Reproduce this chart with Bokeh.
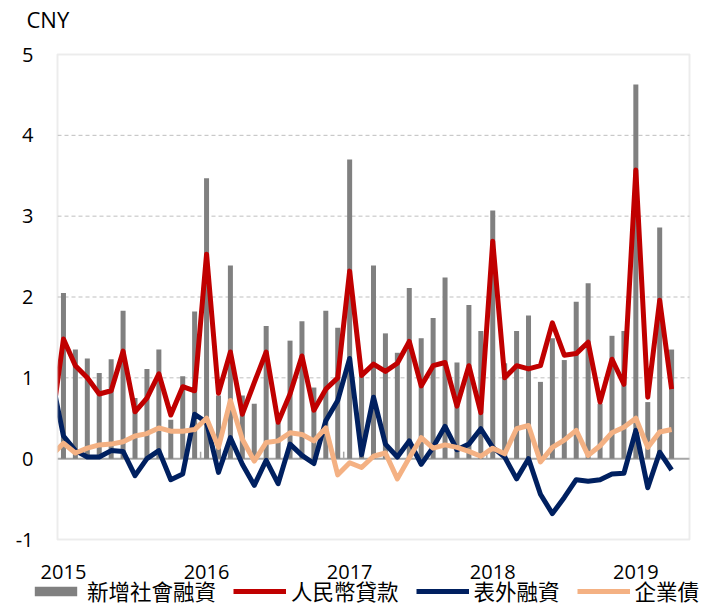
import pandas as pd
from bokeh.plotting import figure
from bokeh.models import (Range1d, Legend, LegendItem, BoxAnnotation, ColumnDataSource)
from bokeh.core.properties import value
from bokeh.embed import file_html
from bokeh.resources import INLINE

# ---------------- data (CNY trillion, monthly) ----------------
# line series start one month earlier (Dec 2014); that stub is hidden left of the box
line_months = pd.date_range("2014-12-01", "2019-04-01", freq="MS")
bar_months = pd.date_range("2015-01-01", "2019-04-01", freq="MS")

tsf_total = [2.05, 1.35, 1.24, 1.06, 1.23, 1.83, 0.75, 1.11, 1.35, 0.48, 1.02, 1.82,
             3.47, 0.78, 2.39, 0.78, 0.68, 1.64, 0.44, 1.46, 1.70, 0.88, 1.83, 1.62,
             3.70, 1.03, 2.39, 1.55, 1.31, 2.11, 1.49, 1.74, 2.24, 1.19, 1.90, 1.58,
             3.07, 1.18, 1.58, 1.77, 0.95, 1.49, 1.22, 1.94, 2.17, 0.68, 1.52, 1.58,
             4.63, 0.70, 2.86, 1.35]

rmb_loans = [0.42,
             1.48, 1.15, 1.00, 0.80, 0.84, 1.33, 0.58, 0.75, 1.05, 0.54, 0.89, 0.84,
             2.53, 0.81, 1.32, 0.55, 0.94, 1.32, 0.45, 0.80, 1.27, 0.60, 0.86, 1.00,
             2.32, 1.03, 1.17, 1.08, 1.18, 1.45, 0.90, 1.15, 1.19, 0.65, 1.15, 0.57,
             2.69, 1.00, 1.15, 1.11, 1.15, 1.68, 1.28, 1.30, 1.44, 0.70, 1.23, 0.92,
             3.57, 0.76, 1.96, 0.86]

off_balance = [1.00,
               0.28, 0.10, 0.02, 0.02, 0.10, 0.09, -0.21, 0.00, 0.10, -0.26, -0.19, 0.55,
               0.45, -0.17, 0.26, -0.07, -0.33, -0.02, -0.31, 0.18, 0.04, -0.06, 0.47, 0.72,
               1.24, 0.05, 0.76, 0.18, 0.02, 0.22, -0.07, 0.14, 0.40, 0.11, 0.18, 0.37,
               0.14, 0.02, -0.25, 0.00, -0.44, -0.68, -0.48, -0.26, -0.28, -0.26, -0.19, -0.18,
               0.35, -0.36, 0.08, -0.14]

corp_bonds = [0.04,
              0.19, 0.07, 0.13, 0.17, 0.18, 0.21, 0.28, 0.31, 0.38, 0.34, 0.34, 0.36,
              0.50, 0.14, 0.72, 0.24, -0.03, 0.20, 0.22, 0.32, 0.30, 0.22, 0.38, -0.20,
              -0.05, -0.11, 0.03, 0.07, -0.25, 0.01, 0.26, 0.13, 0.17, 0.14, 0.09, 0.03,
              0.13, 0.06, 0.37, 0.41, -0.04, 0.14, 0.23, 0.35, 0.04, 0.16, 0.32, 0.39,
              0.50, 0.14, 0.33, 0.36]

series_names = ["新增社會融資", "人民幣貸款", "表外融資", "企業債"]
year_labels = ["2015", "2016", "2017", "2018", "2019"]
y_ticks = [-1, 0, 1, 2, 3, 4, 5]
y_tick_labels = ["-1", "0", "1", "2", "3", "4", "5"]
grid_ticks = [1, 2, 3, 4]
unit_label = "CNY"

# ---------------- positions from month order ----------------
origin = bar_months[0]
def month_pos(dates):
    return [(d.year - origin.year) * 12 + (d.month - origin.month) for d in dates]

bar_x = month_pos(bar_months)
line_x = month_pos(line_months)
year_pos = [month_pos([pd.Timestamp(f"{y}-01-01")])[0] for y in year_labels]
year_bounds = [p - 0.5 for p in year_pos[1:]]

# plot box in data units
BOX_L, BOX_R = -0.5, len(bar_months) + 0.5
BOX_B, BOX_T = y_ticks[0], y_ticks[-1]

# layout (pixels): canvas 702x606, plot box 632x485 with margins around it
W, H = 702, 606
M_L, M_R, M_T, M_B = 57, 13, 54, 67
ux = (BOX_R - BOX_L) / (W - M_L - M_R)
uy = (BOX_T - BOX_B) / (H - M_T - M_B)
x_range = Range1d(BOX_L - M_L * ux, BOX_R + M_R * ux)
y_range = Range1d(BOX_B - M_B * uy, BOX_T + M_T * uy)

FONT = value("Open Sans")
CJK = "Noto Sans CJK TC"
GRID = "#BFBFBF"
AXIS = "#A6A6A6"
C_BAR, C_RED, C_NAVY, C_PEACH = "#808080", "#C00000", "#002060", "#F4B183"

p = figure(width=W, height=H, x_range=x_range, y_range=y_range,
           output_backend="svg", toolbar_location=None,
           x_axis_location=None, y_axis_location=None,
           min_border=0, min_border_left=0, min_border_right=0,
           min_border_top=0, min_border_bottom=0,
           background_fill_color="white", border_fill_color="white")
p.outline_line_color = None
p.grid.visible = False

# dashed horizontal grid inside the box
p.segment(x0=[BOX_L] * len(grid_ticks), x1=[BOX_R] * len(grid_ticks),
          y0=grid_ticks, y1=grid_ticks, line_color=GRID, line_width=1,
          line_dash="4 3")
# zero axis line and year-boundary ticks
p.segment(x0=[BOX_L], x1=[BOX_R], y0=[0], y1=[0], line_color=AXIS, line_width=2)
p.ray(x=year_bounds, y=[0] * len(year_bounds), length=7, length_units="screen",
      angle=90, angle_units="deg", line_color=AXIS, line_width=1.5)

# data
bar_src = ColumnDataSource(dict(x=bar_x, top=tsf_total))
line_src = ColumnDataSource(dict(x=line_x, loans=rmb_loans, off=off_balance,
                                 bonds=corp_bonds))
r_bar = p.vbar(x="x", top="top", bottom=0, width=0.42, source=bar_src,
               fill_color=C_BAR, line_color=None)
r_red = p.line("x", "loans", source=line_src, line_color=C_RED, line_width=5,
               line_join="round")
r_navy = p.line("x", "off", source=line_src, line_color=C_NAVY, line_width=5,
                line_join="round")
r_peach = p.line("x", "bonds", source=line_src, line_color=C_PEACH, line_width=5,
                 line_join="round")

# hide the pre-2015 stub outside the box (white mask), then the box outline
p.quad(left=[min(line_x) - 0.5], right=[BOX_L], bottom=[BOX_B], top=[BOX_T],
       fill_color="white", line_color=None)
p.add_layout(BoxAnnotation(left=BOX_L, right=BOX_R, bottom=BOX_B, top=BOX_T,
                           fill_alpha=0, line_color=GRID, line_width=2))

# axis texts
p.text(x=[BOX_L] * len(y_ticks), y=y_ticks, text=y_tick_labels, x_offset=-24,
       text_align="right", text_baseline="middle", text_font=FONT,
       text_font_size="20px", text_color="#000000")
p.text(x=year_pos, y=[BOX_B] * len(year_pos), text=year_labels, y_offset=32,
       text_align="center", text_baseline="middle", text_font=FONT,
       text_font_size="20px", text_color="#000000")
p.text(x=[BOX_L], y=[BOX_T], text=[unit_label], x_offset=-31, y_offset=-36,
       text_align="left", text_baseline="middle", text_font=FONT,
       text_font_size="22px", text_color="#000000")

legend = Legend(items=[LegendItem(label=series_names[0], renderers=[r_bar]),
                       LegendItem(label=series_names[1], renderers=[r_red]),
                       LegendItem(label=series_names[2], renderers=[r_navy]),
                       LegendItem(label=series_names[3], renderers=[r_peach])],
                orientation="horizontal", location=(29, 0))
legend.label_text_font = CJK
legend.label_text_font_size = "21.5px"
legend.label_text_line_height = 1.0
legend.label_text_color = "#000000"
legend.glyph_width = 53
legend.glyph_height = 12
legend.label_standoff = 5
legend.spacing = 17
legend.padding = 0
legend.margin = 0
legend.border_line_color = None
legend.background_fill_alpha = 0
p.add_layout(legend, "center")

open("out.html", "w").write(file_html(p, INLINE))
